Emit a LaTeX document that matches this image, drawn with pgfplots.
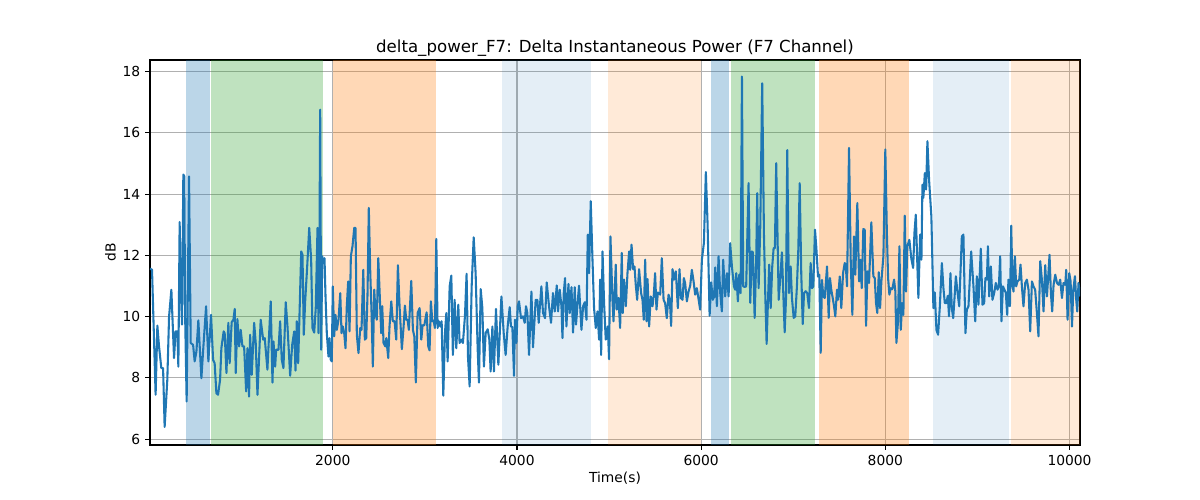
\documentclass[border=0pt]{standalone}
\usepackage{fontspec}
\setmainfont{DejaVu Sans}
\usepackage{pgfplots}
\pgfplotsset{compat=1.18}
\definecolor{tabblue}{RGB}{31,119,180}
\definecolor{tabgreen}{RGB}{44,160,44}
\definecolor{taborange}{RGB}{255,127,14}
\definecolor{gridgray}{RGB}{176,176,176}
\begin{document}
\begin{tikzpicture}
\path[use as bounding box] (-108bp,-39.6bp) rectangle (756bp,320.4bp);
\begin{axis}[
  scale only axis,
  width=669.6bp, height=277.2bp,
  xmin=15, xmax=10114, ymin=5.81, ymax=18.38,
  xtick={2000,4000,6000,8000,10000},
  ytick={6,8,10,12,14,16,18},
  tick pos=left,
  tick align=outside,
  major tick length=3.5pt,
  every tick/.style={black, line width=0.8pt},
  axis line style={line width=0.8pt},
  grid=major,
  major grid style={gridgray, line width=0.8pt},
  scaled x ticks=false,
  /pgf/number format/assume math mode=true,
  /pgf/number format/1000 sep={},
  tick label style={font=\fontsize{10}{12}\selectfont},
  xlabel={Time(s)}, ylabel={dB},
  label style={font=\fontsize{10}{12}\selectfont},
  title={delta\_power\_F7: Delta Instantaneous Power (F7 Channel)},
  title style={font=\fontsize{12}{14}\selectfont, yshift=-7pt},
  xlabel style={yshift=2pt},
  ylabel style={yshift=-2pt},
]
% bands
\addplot[draw=none, fill=tabblue, fill opacity=0.3] coordinates {(410,5.81) (410,18.38) (671,18.38) (671,5.81)};
\addplot[draw=none, fill=tabgreen, fill opacity=0.3] coordinates {(682,5.81) (682,18.38) (1891,18.38) (1891,5.81)};
\addplot[draw=none, fill=taborange, fill opacity=0.3] coordinates {(2000,5.81) (2000,18.38) (3124,18.38) (3124,5.81)};
\addplot[draw=none, fill=tabblue, fill opacity=0.12] coordinates {(3834,5.81) (3834,18.38) (4809,18.38) (4809,5.81)};
\addplot[draw=none, fill=taborange, fill opacity=0.16] coordinates {(4990,5.81) (4990,18.38) (6000,18.38) (6000,5.81)};
\addplot[draw=none, fill=tabblue, fill opacity=0.3] coordinates {(6109,5.81) (6109,18.38) (6305,18.38) (6305,5.81)};
\addplot[draw=none, fill=tabgreen, fill opacity=0.3] coordinates {(6320,5.81) (6320,18.38) (7233,18.38) (7233,5.81)};
\addplot[draw=none, fill=taborange, fill opacity=0.3] coordinates {(7280,5.81) (7280,18.38) (8258,18.38) (8258,5.81)};
\addplot[draw=none, fill=tabblue, fill opacity=0.12] coordinates {(8522,5.81) (8522,18.38) (9348,18.38) (9348,5.81)};
\addplot[draw=none, fill=taborange, fill opacity=0.16] coordinates {(9363,5.81) (9363,18.38) (10114,18.38) (10114,5.81)};
% signal
\addplot[tabblue, line width=1.5pt, line join=round, no marks] table {
x y
15 11.57
37 11.53
76 7.45
95 9.71
113 9.03
138 8.32
157 8.32
174 6.4
203 7.94
222 10.0
247 10.88
276 8.65
293 9.52
312 9.52
323 8.37
337 13.09
348 10.99
363 9.74
377 14.64
388 14.58
396 10.12
413 7.23
439 14.58
457 9.14
483 9.08
500 8.54
519 8.86
540 9.88
573 7.99
595 9.03
624 10.34
649 8.54
678 10.06
700 8.59
717 8.48
736 7.5
754 7.45
776 7.94
790 8.97
815 9.52
826 9.46
845 8.16
866 9.8
880 8.48
902 9.82
921 9.9
935 10.25
946 8.16
964 9.92
983 9.03
1000 9.57
1019 9.03
1037 9.03
1059 7.56
1073 8.97
1091 7.39
1102 9.41
1120 8.1
1146 9.8
1163 9.14
1182 7.45
1200 8.70
1217 9.9
1244 9.25
1261 9.3
1290 8.27
1309 9.46
1326 10.5
1345 7.85
1356 9.19
1374 8.37
1385 8.92
1410 8.92
1428 9.85
1446 8.59
1464 8.32
1489 10.47
1508 9.68
1537 8.07
1559 9.08
1581 9.52
1595 8.24
1609 9.85
1624 8.48
1638 10.01
1657 12.13
1671 12.02
1685 9.41
1700 10.5
1722 11.64
1744 12.9
1765 11.86
1779 9.63
1798 9.48
1815 10.28
1834 12.9
1845 9.46
1856 12.9
1863 16.76
1874 8.92
1885 11.97
1899 11.75
1910 11.91
1921 10.66
1935 9.46
1953 8.70
1964 9.3
1978 8.59
1989 8.54
2000 10.99
2015 9.36
2029 10.06
2044 9.57
2062 9.9
2081 10.77
2095 9.46
2109 9.68
2124 9.46
2138 8.97
2152 10.34
2167 11.15
2182 9.52
2196 11.97
2214 12.3
2233 12.9
2247 12.9
2261 9.41
2279 8.81
2298 9.63
2312 9.57
2331 11.53
2348 9.25
2363 9.3
2377 10.72
2391 13.55
2407 11.42
2421 10.12
2435 8.37
2450 10.88
2464 10.12
2478 9.9
2494 11.91
2526 9.46
2537 10.34
2551 9.14
2570 9.03
2581 9.30
2602 8.65
2616 9.68
2635 10.5
2652 9.85
2671 9.85
2689 9.25
2707 11.68
2725 10.34
2750 8.94
2769 9.68
2783 10.36
2798 9.9
2812 9.9
2826 9.57
2852 11.17
2870 9.57
2885 9.36
2902 7.85
2921 10.12
2943 10.28
2961 9.25
2975 9.72
2994 9.72
3019 10.14
3037 9.03
3051 8.9
3065 10.5
3081 9.85
3095 9.87
3109 9.63
3124 12.54
3138 9.63
3152 9.85
3168 9.68
3182 9.85
3200 7.42
3218 9.46
3233 10.12
3247 8.54
3269 10.99
3287 11.34
3304 8.75
3323 10.55
3341 8.97
3363 10.39
3377 9.14
3396 9.25
3413 9.14
3435 10.01
3453 11.4
3468 8.70
3486 7.72
3508 10.99
3530 12.59
3551 11.42
3573 8.97
3587 7.85
3606 10.9
3624 10.28
3641 8.37
3660 9.46
3682 9.59
3700 9.25
3714 8.21
3733 9.68
3750 8.21
3772 10.25
3798 8.43
3831 10.66
3856 9.46
3877 8.75
3899 9.68
3921 10.31
3935 9.68
3950 9.66
3968 8.07
3978 9.9
3994 9.14
4008 10.34
4022 10.5
4044 9.95
4065 10.01
4084 9.8
4098 10.34
4113 10.12
4131 8.75
4157 10.82
4174 9.0
4203 10.55
4222 10.55
4236 9.8
4265 10.99
4283 10.12
4305 9.95
4323 11.12
4348 10.34
4370 9.8
4391 10.77
4410 10.17
4432 11.02
4446 10.17
4464 10.88
4483 10.34
4494 9.30
4508 10.77
4522 11.26
4537 9.68
4559 11.07
4573 10.12
4592 10.96
4609 9.48
4627 10.96
4641 9.74
4660 10.5
4674 11.01
4700 9.57
4718 10.34
4736 10.47
4755 9.9
4769 12.68
4783 11.42
4801 13.77
4820 11.86
4837 10.28
4856 9.63
4874 10.17
4892 9.25
4903 11.21
4914 8.75
4929 12.13
4946 10.44
4964 9.25
4986 9.68
5000 8.61
5015 12.62
5037 10.55
5048 9.85
5059 10.66
5073 11.7
5084 10.23
5102 10.61
5120 9.63
5138 12.08
5149 10.12
5163 11.21
5182 10.34
5200 11.42
5218 12.13
5229 11.53
5244 12.35
5261 11.55
5276 11.64
5290 11.04
5305 10.55
5326 11.55
5348 10.77
5363 10.55
5377 9.9
5392 11.86
5407 9.85
5418 11.23
5435 9.68
5453 10.66
5472 10.34
5486 10.72
5500 11.42
5515 10.23
5530 10.79
5555 10.72
5573 11.91
5592 10.55
5609 10.44
5627 9.95
5646 10.72
5660 10.55
5674 9.70
5689 11.55
5707 11.21
5725 11.48
5747 10.28
5765 11.55
5780 10.61
5798 10.55
5812 11.26
5826 11.1
5845 10.5
5863 10.82
5881 11.01
5899 11.53
5918 11.15
5935 10.72
5953 10.93
5972 10.57
5989 10.23
6008 11.86
6030 12.41
6051 14.72
6070 13.01
6092 10.03
6109 11.12
6127 10.55
6142 10.66
6153 11.61
6171 10.34
6189 11.97
6207 10.77
6225 10.17
6239 11.86
6261 10.66
6280 11.42
6298 10.66
6315 12.4
6334 11.64
6356 10.99
6370 10.88
6381 11.42
6399 10.5
6413 11.37
6429 10.77
6443 17.84
6457 10.99
6472 10.97
6489 10.99
6515 14.36
6533 10.45
6551 12.13
6562 12.1
6581 9.96
6598 11.86
6609 14.03
6624 10.93
6642 12.95
6663 17.62
6682 12.67
6696 10.77
6711 9.11
6725 10.45
6739 11.7
6755 10.28
6772 11.64
6787 12.24
6801 12.24
6815 15.01
6831 12.35
6842 10.55
6863 11.42
6877 12.1
6892 10.77
6907 9.49
6921 10.55
6935 15.44
6953 10.77
6972 11.64
6986 10.61
7005 9.96
7022 10.01
7040 10.99
7055 12.18
7070 14.36
7087 11.42
7103 9.76
7117 10.77
7135 10.83
7152 10.77
7171 10.28
7189 11.75
7204 10.93
7218 10.99
7236 12.84
7250 12.29
7269 11.31
7283 11.37
7298 8.82
7312 11.2
7326 10.66
7342 10.61
7367 11.64
7385 9.96
7399 11.26
7413 10.88
7432 10.55
7443 10.34
7457 10.01
7475 10.88
7486 10.55
7505 11.31
7522 10.28
7541 11.42
7559 11.75
7570 11.7
7584 10.99
7606 15.51
7624 11.86
7642 10.06
7660 12.62
7674 11.37
7696 13.71
7715 11.15
7729 11.86
7744 10.93
7761 12.86
7776 12.84
7791 9.70
7805 11.48
7823 11.1
7848 13.08
7870 11.32
7885 11.26
7899 10.44
7913 10.12
7929 11.45
7943 10.28
7957 11.15
7979 11.97
8000 15.46
8016 12.84
8030 11.26
8044 10.72
8059 10.93
8076 10.9
8095 11.21
8109 10.82
8120 9.14
8138 9.85
8153 12.3
8168 9.57
8182 10.44
8196 10.06
8211 13.3
8225 10.82
8239 12.3
8261 12.51
8283 11.88
8302 11.59
8316 12.73
8331 13.33
8345 11.97
8359 10.61
8378 12.68
8392 11.86
8403 14.31
8413 13.88
8429 14.69
8443 14.15
8457 15.73
8475 14.47
8500 13.27
8522 10.28
8537 10.79
8555 9.57
8573 9.41
8592 10.34
8614 11.75
8631 10.93
8646 10.44
8663 10.44
8678 10.68
8692 10.01
8707 11.42
8722 10.28
8737 9.95
8750 10.55
8766 11.32
8783 10.82
8802 10.34
8831 12.62
8848 12.68
8870 9.46
8885 10.23
8903 10.34
8932 12.13
8957 10.99
8976 9.85
8994 11.32
9011 10.39
9037 12.22
9055 10.39
9073 10.44
9087 11.26
9103 11.21
9114 12.3
9128 10.66
9146 11.64
9163 10.55
9182 10.77
9200 11.1
9218 10.88
9233 10.99
9247 11.97
9261 9.85
9277 10.99
9294 10.88
9309 10.77
9323 10.06
9337 11.21
9353 10.34
9367 12.97
9381 11.04
9392 10.82
9407 11.97
9421 10.99
9435 11.15
9454 11.21
9468 11.7
9483 10.99
9500 10.34
9519 11.1
9537 11.21
9555 10.88
9573 9.52
9592 11.15
9609 10.99
9627 10.88
9646 10.12
9663 9.36
9682 11.81
9700 11.21
9718 10.17
9736 11.68
9755 10.66
9769 11.32
9783 12.02
9798 10.77
9812 10.17
9827 11.04
9845 11.37
9864 11.1
9881 11.04
9899 11.21
9918 10.61
9935 11.1
9954 11.04
9964 11.53
9979 9.9
9997 11.42
10012 11.15
10027 9.68
10041 10.88
10059 11.32
10073 10.55
10084 10.17
10098 11.1
10114 10.66
};
\end{axis}
\end{tikzpicture}
\end{document}
